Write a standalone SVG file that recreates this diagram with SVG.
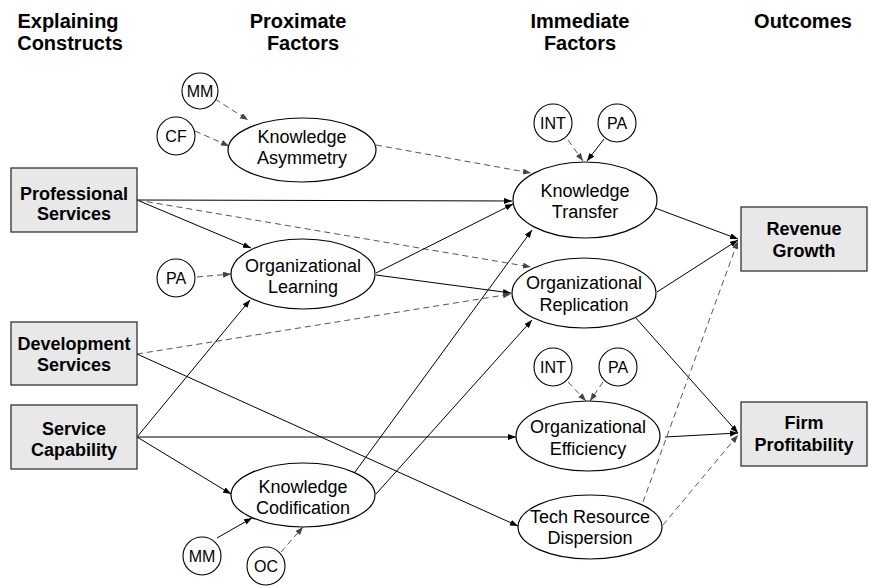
<svg xmlns="http://www.w3.org/2000/svg" width="871" height="587" viewBox="0 0 871 587">
<style>
.hdr{font-family:"Liberation Sans",Arial,sans-serif;font-weight:bold;font-size:20px;fill:#000;text-anchor:middle}
.bx rect{fill:#e8e8e8;stroke:#333;stroke-width:1.3}
.bx text{font-family:"Liberation Sans",Arial,sans-serif;font-weight:bold;font-size:18px;fill:#000;text-anchor:middle}
.el ellipse{fill:#fff;stroke:#000;stroke-width:1.2}
.el text{font-family:"Liberation Sans",Arial,sans-serif;font-size:18px;fill:#000;text-anchor:middle}
.ci circle{fill:#fff;stroke:#000;stroke-width:1.1}
.ci text{font-family:"Liberation Sans",Arial,sans-serif;font-size:16px;fill:#000;text-anchor:middle}
.s{stroke:#000;stroke-width:1;fill:none;marker-end:url(#a)}
.d{stroke:#555;stroke-width:1;fill:none;stroke-dasharray:6,4;marker-end:url(#ag)}
</style>
<defs>
<marker id="a" markerUnits="userSpaceOnUse" markerWidth="9" markerHeight="7" refX="8" refY="3" orient="auto"><path d="M0,0 L8,3 L0,6 z" fill="#000"/></marker>
<marker id="ag" markerUnits="userSpaceOnUse" markerWidth="9" markerHeight="7" refX="8" refY="3" orient="auto"><path d="M0,0 L8,3 L0,6 z" fill="#444"/></marker>
</defs>
<rect width="871" height="587" fill="#fff"/>
<g id="headers">
<text class="hdr" x="68" y="28">Explaining</text>
<text class="hdr" x="70" y="50">Constructs</text>
<text class="hdr" x="298" y="28">Proximate</text>
<text class="hdr" x="303" y="50">Factors</text>
<text class="hdr" x="580" y="28">Immediate</text>
<text class="hdr" x="580" y="50">Factors</text>
<text class="hdr" x="803" y="28">Outcomes</text>
</g>
<g id="connectors">
<line class="d" x1="215" y1="99" x2="248" y2="120"/>
<line class="d" x1="195" y1="131" x2="229" y2="146"/>
<line class="d" x1="376" y1="145" x2="531" y2="173"/>
<line class="d" x1="568" y1="140" x2="583" y2="161"/>
<line class="s" x1="604" y1="139" x2="587" y2="161"/>
<line class="s" x1="137" y1="200" x2="512" y2="201"/>
<line class="s" x1="137" y1="200" x2="251" y2="248"/>
<line class="d" x1="137" y1="200" x2="531" y2="267"/>
<line class="s" x1="376" y1="273" x2="513" y2="204"/>
<line class="s" x1="376" y1="275" x2="511" y2="293"/>
<line class="d" x1="197" y1="277" x2="231" y2="274"/>
<line class="d" x1="137" y1="354" x2="511" y2="294"/>
<line class="s" x1="137" y1="354" x2="518" y2="526"/>
<line class="s" x1="137" y1="437" x2="250" y2="300"/>
<line class="s" x1="137" y1="437" x2="516" y2="437"/>
<line class="s" x1="137" y1="437" x2="231" y2="494"/>
<line class="s" x1="355" y1="472" x2="532" y2="230"/>
<line class="s" x1="376" y1="494" x2="532" y2="320"/>
<line class="s" x1="217" y1="538" x2="252" y2="518"/>
<line class="d" x1="281" y1="552" x2="303" y2="527"/>
<line class="d" x1="568" y1="382" x2="586" y2="401"/>
<line class="d" x1="603" y1="382" x2="590" y2="401"/>
<line class="s" x1="655" y1="208" x2="738" y2="239"/>
<line class="s" x1="657" y1="292" x2="738" y2="240"/>
<line class="s" x1="635" y1="317" x2="738" y2="433"/>
<line class="s" x1="665" y1="437" x2="738" y2="433"/>
<line class="d" x1="643" y1="502" x2="738" y2="241"/>
<line class="d" x1="663" y1="525" x2="738" y2="435"/>
</g>
<g id="professional-services" class="bx"><rect x="11" y="168" width="126" height="64"/><text x="74" y="200">Professional</text><text x="74" y="220">Services</text></g>
<g id="development-services" class="bx"><rect x="11" y="322" width="126" height="63"/><text x="74" y="350">Development</text><text x="74" y="371">Services</text></g>
<g id="service-capability" class="bx"><rect x="11" y="405" width="126" height="64"/><text x="74" y="435">Service</text><text x="74" y="456">Capability</text></g>
<g id="revenue-growth" class="bx"><rect x="741" y="207" width="126" height="64"/><text x="804" y="235">Revenue</text><text x="804" y="257">Growth</text></g>
<g id="firm-profitability" class="bx"><rect x="741" y="402" width="126" height="64"/><text x="804" y="429">Firm</text><text x="804" y="451">Profitability</text></g>
<g id="knowledge-asymmetry" class="el"><ellipse cx="302" cy="150" rx="74" ry="32"/><text x="302" y="143">Knowledge</text><text x="302" y="164">Asymmetry</text></g>
<g id="organizational-learning" class="el"><ellipse cx="303" cy="274" rx="72" ry="35"/><text x="303" y="272">Organizational</text><text x="303" y="293">Learning</text></g>
<g id="knowledge-codification" class="el"><ellipse cx="303" cy="495" rx="72" ry="32"/><text x="303" y="493">Knowledge</text><text x="303" y="514">Codification</text></g>
<g id="knowledge-transfer" class="el"><ellipse cx="585" cy="200" rx="72" ry="38"/><text x="585" y="197">Knowledge</text><text x="585" y="218">Transfer</text></g>
<g id="organizational-replication" class="el"><ellipse cx="584" cy="293" rx="72" ry="35"/><text x="584" y="289">Organizational</text><text x="584" y="311">Replication</text></g>
<g id="organizational-efficiency" class="el"><ellipse cx="588" cy="436" rx="72" ry="35"/><text x="588" y="433">Organizational</text><text x="588" y="455">Efficiency</text></g>
<g id="tech-resource-dispersion" class="el"><ellipse cx="590" cy="527" rx="72" ry="32"/><text x="590" y="523">Tech Resource</text><text x="590" y="544">Dispersion</text></g>
<g id="mm-top" class="ci"><circle cx="200" cy="91" r="18"/><text x="200" y="97">MM</text></g>
<g id="cf" class="ci"><circle cx="176" cy="136" r="19"/><text x="176" y="142">CF</text></g>
<g id="int-top" class="ci"><circle cx="553" cy="123" r="19"/><text x="553" y="129">INT</text></g>
<g id="pa-top" class="ci"><circle cx="617" cy="123" r="19"/><text x="617" y="129">PA</text></g>
<g id="pa-left" class="ci"><circle cx="176" cy="278" r="19"/><text x="176" y="284">PA</text></g>
<g id="int-mid" class="ci"><circle cx="553" cy="367" r="19"/><text x="553" y="373">INT</text></g>
<g id="pa-mid" class="ci"><circle cx="618" cy="367" r="19"/><text x="618" y="373">PA</text></g>
<g id="mm-bottom" class="ci"><circle cx="202" cy="556" r="19"/><text x="202" y="562">MM</text></g>
<g id="oc" class="ci"><circle cx="266" cy="566" r="19"/><text x="266" y="572">OC</text></g>
</svg>
